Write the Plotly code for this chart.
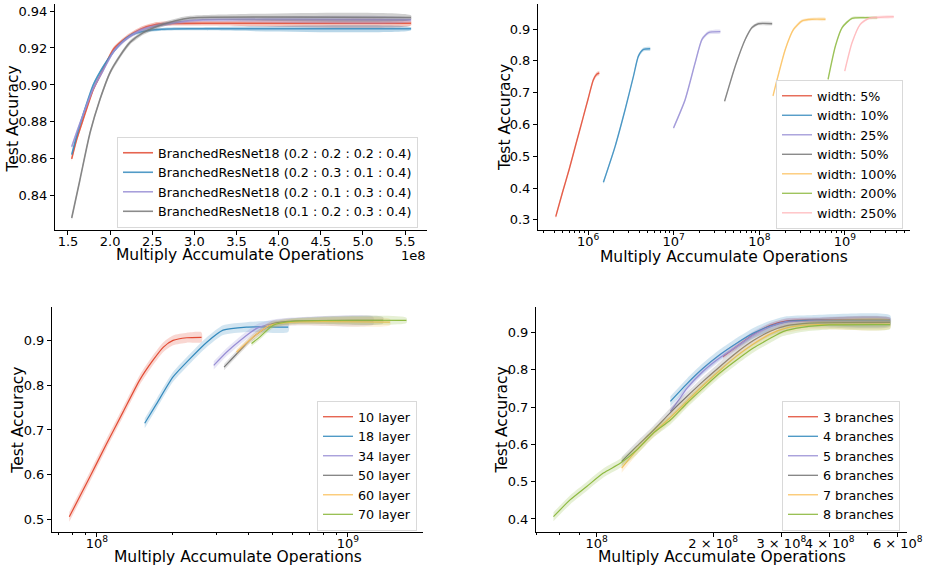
import plotly.graph_objects as go

# ---------------- colours (matplotlib ggplot-like cycle) ----------------
COLORS = ["#E24A33", "#348ABD", "#988ED5", "#777777", "#FBC15E", "#8EBA42", "#FFB5B8"]

# ---------------- Panel 1: branch ratio (linear x) ----------------
p1_labels = ["BranchedResNet18 (0.2 : 0.2 : 0.2 : 0.4)",
             "BranchedResNet18 (0.2 : 0.3 : 0.1 : 0.4)",
             "BranchedResNet18 (0.2 : 0.1 : 0.3 : 0.4)",
             "BranchedResNet18 (0.1 : 0.2 : 0.3 : 0.4)"]
p1_x_red = [1.544e8, 1.60e8, 1.68e8, 1.80e8, 1.919e8, 2.04e8, 2.197e8, 2.355e8, 2.553e8, 2.8e8, 3.2e8, 5.57e8]
p1_y_red = [0.860, 0.870, 0.8813, 0.8976, 0.9085, 0.9193, 0.9257, 0.930, 0.9328, 0.9333, 0.9334, 0.9334]
p1_x_blue = [1.544e8, 1.60e8, 1.68e8, 1.80e8, 1.919e8, 2.04e8, 2.15e8, 2.27e8, 2.45e8, 2.7e8, 3.0e8, 5.57e8]
p1_y_blue = [0.8623, 0.872, 0.884, 0.900, 0.910, 0.918, 0.9235, 0.9274, 0.9295, 0.9303, 0.9304, 0.9304]
p1_x_purple = [1.544e8, 1.60e8, 1.68e8, 1.80e8, 1.919e8, 2.04e8, 2.197e8, 2.355e8, 2.553e8, 2.8e8, 3.1e8, 5.57e8]
p1_y_purple = [0.8665, 0.874, 0.884, 0.898, 0.908, 0.918, 0.925, 0.9295, 0.932, 0.934, 0.9352, 0.9352]
p1_x_gray = [1.544e8, 1.642e8, 1.761e8, 1.88e8, 1.999e8, 2.117e8, 2.236e8, 2.394e8, 2.63e8, 2.87e8, 3.05e8, 5.57e8]
p1_y_gray = [0.828, 0.8487, 0.874, 0.8922, 0.9067, 0.9157, 0.923, 0.9283, 0.9328, 0.9357, 0.9365, 0.9365]
p1_band = [0.0012, 0.0008, 0.0010, 0.0012]

# ---------------- Panel 2: width ----------------
p2_labels = ["width: 5%", "width: 10%", "width: 25%", "width: 50%", "width: 100%", "width: 200%", "width: 250%"]
p2_x = [
    [4.19e5, 5.01e5, 6.03e5, 7.24e5, 8.71e5, 1.0e6, 1.15e6, 1.26e6, 1.35e6],
    [1.51e6, 2.07e6, 2.71e6, 3.39e6, 3.87e6, 4.44e6, 5.31e6],
    [9.95e6, 1.36e7, 1.78e7, 2.14e7, 2.55e7, 3.50e7],
    [3.93e7, 5.24e7, 6.86e7, 8.22e7, 9.77e7, 1.41e8],
    [1.445e8, 1.54e8, 2.01e8, 2.51e8, 3.16e8, 4.13e8, 5.92e8],
    [6.35e8, 7.74e8, 9.27e8, 1.21e9, 1.74e9, 2.38e9],
    [9.95e8, 1.21e9, 1.51e9, 1.91e9, 3.72e9],
]
p2_y = [
    [0.310, 0.385, 0.460, 0.540, 0.620, 0.680, 0.740, 0.758, 0.762],
    [0.418, 0.531, 0.647, 0.752, 0.815, 0.836, 0.838],
    [0.589, 0.678, 0.794, 0.868, 0.889, 0.892],
    [0.673, 0.784, 0.868, 0.905, 0.917, 0.917],
    [0.690, 0.720, 0.836, 0.899, 0.926, 0.931, 0.931],
    [0.742, 0.847, 0.905, 0.934, 0.936, 0.936],
    [0.768, 0.857, 0.915, 0.934, 0.939],
]
p2_band = [0.007, 0.006, 0.006, 0.005, 0.005, 0.004, 0.004]

# ---------------- Panel 3: depth ----------------
p3_labels = ["10 layer", "18 layer", "34 layer", "50 layer", "60 layer", "70 layer"]
p3_x = [
    [7.76e7, 9.38e7, 1.09e8, 1.27e8, 1.48e8, 1.67e8, 1.84e8, 2.01e8, 2.28e8, 2.61e8],
    [1.55e8, 1.73e8, 2.01e8, 2.35e8, 2.74e8, 3.18e8, 3.94e8, 5.78e8],
    [2.92e8, 3.29e8, 3.72e8, 4.33e8, 5.04e8, 6.31e8, 1.26e9],
    [3.21e8, 3.72e8, 4.20e8, 5.04e8, 6.31e8, 1.38e9],
    [3.60e8, 4.20e8, 4.89e8, 6.03e8, 1.47e9],
    [4.13e8, 4.46e8, 5.04e8, 6.03e8, 1.71e9],
]
p3_y = [
    [0.505, 0.595, 0.668, 0.740, 0.812, 0.856, 0.886, 0.901, 0.907, 0.908],
    [0.715, 0.759, 0.819, 0.860, 0.897, 0.924, 0.931, 0.931],
    [0.845, 0.875, 0.901, 0.928, 0.939, 0.944, 0.945],
    [0.841, 0.879, 0.909, 0.939, 0.945, 0.946],
    [0.875, 0.909, 0.935, 0.942, 0.942],
    [0.894, 0.909, 0.935, 0.944, 0.946],
]
p3_band = [0.011, 0.011, 0.009, 0.007, 0.007, 0.006]

# ---------------- Panel 4: number of branches ----------------
p4_labels = ["3 branches", "4 branches", "5 branches", "6 branches", "7 branches", "8 branches"]
p4_x = [
    [2.12e8, 2.30e8, 2.54e8, 2.81e8, 3.10e8, 3.55e8, 5.73e8],
    [1.55e8, 1.71e8, 1.88e8, 2.08e8, 2.30e8, 2.54e8, 2.81e8, 3.10e8, 3.55e8, 5.73e8],
    [1.55e8, 1.63e8, 1.71e8, 1.88e8, 2.08e8, 2.30e8, 2.54e8, 2.81e8, 3.10e8, 3.55e8, 5.73e8],
    [1.16e8, 1.27e8, 1.40e8, 1.55e8, 1.71e8, 1.88e8, 2.08e8, 2.30e8, 2.54e8, 2.81e8, 3.10e8, 3.55e8, 5.73e8],
    [1.16e8, 1.27e8, 1.40e8, 1.55e8, 1.71e8, 1.88e8, 2.08e8, 2.30e8, 2.54e8, 2.81e8, 3.10e8, 3.55e8, 5.73e8],
    [7.73e7, 8.53e7, 9.42e7, 1.04e8, 1.15e8, 1.27e8, 1.40e8, 1.55e8, 1.71e8, 1.88e8, 2.08e8, 2.30e8,
     2.54e8, 2.81e8, 3.03e8, 3.42e8, 3.98e8, 5.73e8],
]
p4_y = [
    [0.835, 0.862, 0.894, 0.919, 0.931, 0.933, 0.933],
    [0.715, 0.762, 0.803, 0.840, 0.871, 0.898, 0.917, 0.929, 0.932, 0.932],
    [0.688, 0.719, 0.750, 0.795, 0.832, 0.862, 0.893, 0.915, 0.928, 0.930, 0.930],
    [0.554, 0.595, 0.637, 0.685, 0.728, 0.768, 0.808, 0.846, 0.878, 0.903, 0.918, 0.925, 0.927],
    [0.536, 0.585, 0.630, 0.672, 0.715, 0.757, 0.798, 0.837, 0.869, 0.896, 0.912, 0.920, 0.922],
    [0.406, 0.451, 0.487, 0.523, 0.549, 0.585, 0.630, 0.665, 0.710, 0.750, 0.791, 0.826,
     0.858, 0.884, 0.902, 0.914, 0.920, 0.921],
]
p4_band = [0.006, 0.014, 0.010, 0.012, 0.012, 0.012]

# ---------------- helpers ----------------
def rgba(hex_color, a):
    h = hex_color.lstrip("#")
    r, g, b = int(h[0:2], 16), int(h[2:4], 16), int(h[4:6], 16)
    return f"rgba({r},{g},{b},{a})"

fig = go.Figure()

def add_series(x, y, hw, color, name, xa, ya, legend, lw, band_alpha, legend_alpha=1.0):
    upper = [v + hw for v in y]
    lower = [v - hw for v in y]
    fig.add_trace(go.Scatter(
        x=list(x) + list(x)[::-1], y=upper + lower[::-1],
        fill="toself", fillcolor=rgba(color, band_alpha),
        line=dict(width=0, shape="spline", smoothing=0.6), mode="lines",
        hoverinfo="skip", showlegend=False, xaxis=xa, yaxis=ya))
    fig.add_trace(go.Scatter(
        x=x, y=y, mode="lines", name=name,
        line=dict(color=rgba(color, legend_alpha), width=lw, shape="spline", smoothing=0.6),
        xaxis=xa, yaxis=ya, legend=legend))

p1_xs = [p1_x_red, p1_x_blue, p1_x_purple, p1_x_gray]
p1_ys = [p1_y_red, p1_y_blue, p1_y_purple, p1_y_gray]
p1_colors = [COLORS[0], COLORS[1], COLORS[2], COLORS[3]]
for i in range(4):
    add_series(p1_xs[i], p1_ys[i], p1_band[i], p1_colors[i], p1_labels[i], "x", "y", "legend", 1.6, 0.35, 0.85)

for i in range(7):
    add_series(p2_x[i], p2_y[i], p2_band[i], COLORS[i], p2_labels[i], "x2", "y2", "legend2", 1.4, 0.25, 0.85)

for i in range(6):
    add_series(p3_x[i], p3_y[i], p3_band[i], COLORS[i], p3_labels[i], "x3", "y3", "legend3", 1.2, 0.22)

for i in range(6):
    add_series(p4_x[i], p4_y[i], p4_band[i], COLORS[i], p4_labels[i], "x4", "y4", "legend4", 1.2, 0.22)

W, H = 931, 568
FONT = "DejaVu Sans"
TICK = dict(family=FONT, size=13, color="black")

def px(v):
    return v / W

def py(v):
    return 1 - v / H

common = dict(showline=True, linecolor="black", linewidth=1, ticks="outside", ticklen=4,
              tickwidth=1, tickcolor="black", showgrid=False, zeroline=False,
              tickfont=TICK, automargin=False, mirror=False, tickangle=0)
xcommon = dict(ticklabelstandoff=-5, **common)

# panel 1 axes
p1_xticks = [1.5e8, 2.0e8, 2.5e8, 3.0e8, 3.5e8, 4.0e8, 4.5e8, 5.0e8, 5.5e8]
fig.update_layout(
    xaxis=dict(domain=[px(55), px(427)], range=[1.346e8, 5.76e8], anchor="y",
               tickvals=p1_xticks, ticktext=[f"{v/1e8:.1f}" for v in p1_xticks], **xcommon),
    yaxis=dict(domain=[py(230), py(4)], range=[0.8215, 0.9438], anchor="x",
               tickvals=[0.84, 0.86, 0.88, 0.90, 0.92, 0.94], tickformat=".2f", **common),
)

def minor_vals(lo_exp, hi_exp):
    vals = []
    for e in range(lo_exp, hi_exp + 1):
        for m in range(2, 10):
            vals.append(m * 10 ** e)
    return vals

minor_style = dict(ticks="outside", ticklen=2, tickwidth=1, tickcolor="black", showgrid=False)

fig.update_layout(
    xaxis2=dict(type="log", domain=[px(538), px(910)], range=[5.415, 9.76], anchor="y2",
                tickvals=[1e6, 1e7, 1e8, 1e9],
                ticktext=["10<sup>6</sup>", "10<sup>7</sup>", "10<sup>8</sup>", "10<sup>9</sup>"],
                minor=dict(tickmode="array", tickvals=minor_vals(5, 9), **minor_style), **xcommon),
    yaxis2=dict(domain=[py(230), py(4)], range=[0.268, 0.979], anchor="x2",
                tickvals=[0.3, 0.4, 0.5, 0.6, 0.7, 0.8, 0.9], tickformat=".1f", **common),
    xaxis3=dict(type="log", domain=[px(52), px(423)], range=[7.821, 9.299], anchor="y3",
                tickvals=[1e8, 1e9], ticktext=["10<sup>8</sup>", "10<sup>9</sup>"],
                minor=dict(tickmode="array", tickvals=minor_vals(7, 9), **minor_style), **xcommon),
    yaxis3=dict(domain=[py(532), py(307)], range=[0.471, 0.976], anchor="x3",
                tickvals=[0.5, 0.6, 0.7, 0.8, 0.9], tickformat=".1f", **common),
    xaxis4=dict(type="log", domain=[px(536), px(907)], range=[7.843, 8.802], anchor="y4",
                tickvals=[1e8, 2e8, 3e8, 4e8, 6e8],
                ticktext=["10<sup>8</sup>", "2 × 10<sup>8</sup>", "3 × 10<sup>8</sup>",
                          "4 × 10<sup>8</sup>", "6 × 10<sup>8</sup>"],
                minor=dict(tickmode="array", tickvals=[7e7, 8e7, 9e7, 5e8], **minor_style), **xcommon),
    yaxis4=dict(domain=[py(532), py(307)], range=[0.365, 0.968], anchor="x4",
                tickvals=[0.4, 0.5, 0.6, 0.7, 0.8, 0.9], tickformat=".1f", **common),
)

LEG = dict(bgcolor="rgba(255,255,255,0.85)", bordercolor="#d9d9d9", borderwidth=1,
           font=dict(family=FONT, size=12.7, color="black"), xanchor="right", yanchor="bottom",
           tracegroupgap=0, itemwidth=30)
fig.update_layout(
    legend=dict(x=px(418), y=py(228), **LEG),
    legend2=dict(x=px(903), y=py(229), **LEG),
    legend3=dict(x=px(417), y=py(531), **LEG),
    legend4=dict(x=px(900), y=py(531), **LEG),
)

TITLE = dict(family=FONT, size=15.5, color="black")
ann = []
for (cx, cy) in [(240, 255), (724, 257), (237.5, 557), (721.5, 557)]:
    ann.append(dict(text="Multiply Accumulate Operations", x=px(cx), y=py(cy), xref="paper", yref="paper",
                    showarrow=False, font=TITLE, xanchor="center", yanchor="middle"))
for (cx, cy) in [(12, 119.5), (505, 118), (18, 420.7), (501.7, 419.8)]:
    ann.append(dict(text="Test Accuracy", x=px(cx), y=py(cy), xref="paper", yref="paper",
                    showarrow=False, font=TITLE, textangle=-90, xanchor="center", yanchor="middle"))
ann.append(dict(text="1e8", x=px(413), y=py(255), xref="paper", yref="paper", showarrow=False,
                font=TICK, xanchor="center", yanchor="middle"))

fig.update_layout(
    width=W, height=H, margin=dict(l=0, r=0, t=0, b=0),
    paper_bgcolor="white", plot_bgcolor="white",
    font=dict(family=FONT, color="black"),
    annotations=ann, showlegend=True,
)

fig.write_html("out.html", config={"displayModeBar": False},
               post_script="document.body.style.margin='0px';")
